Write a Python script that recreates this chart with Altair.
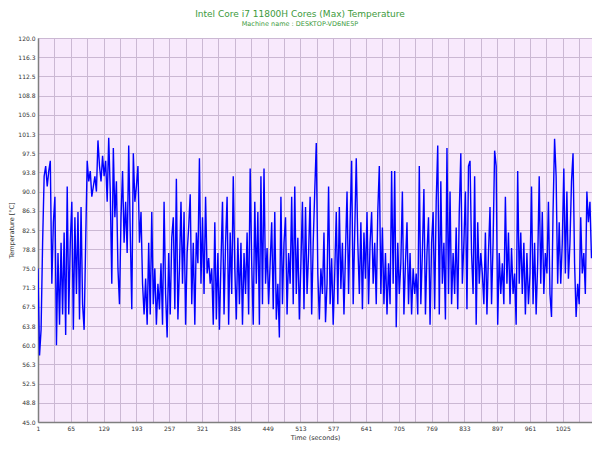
import altair as alt
import pandas as pd

TITLE = "Intel Core i7 11800H Cores (Max) Temperature"
SUBTITLE = "Machine name : DESKTOP-VD6NE5P"
X_TITLE = "Time (seconds)"
Y_TITLE = "Temperature [°C]"

# temperature read every 3 seconds, starting at second 1
TEMPS_A = [75, 58, 63, 80, 93, 95, 91, 94, 96, 72,
           84, 89, 60, 78, 64, 80, 66, 82, 62, 91,
           66, 80, 88, 63, 85, 70, 86, 65, 87, 68,
           63, 80, 96, 92, 94, 89, 91, 93, 90, 100,
           95, 92, 97, 93, 96, 88, 100.5, 90, 72, 98.5,
           85, 92, 75, 68, 85, 94, 80, 88, 78, 99,
           82, 67, 97.5, 88, 91, 95, 80, 86, 72, 66,
           73, 64]
TEMPS_B = [80, 66, 86, 68, 75, 64, 72, 67, 76, 64,
           88, 70, 61.5, 78, 66, 81, 85, 67, 92.5, 65,
           75, 88, 72, 86, 64, 78, 83, 89.5, 68, 80,
           64, 82, 76, 96.5, 72, 85, 70, 89, 74, 77,
           72, 75, 64, 84, 65, 78, 63, 76, 88, 66,
           80, 89, 64, 82, 70, 93, 75, 65, 81, 68,
           80, 64, 78, 70, 82, 66, 94.5, 76, 64, 88,
           72, 86, 64]
TEMPS_C = [93, 68, 94.5, 72, 79, 68, 76, 84, 67, 86,
           65, 72, 61.5, 89, 68, 80, 85, 66, 78, 72,
           89, 68, 91, 70, 81, 65, 76, 88, 67, 87,
           70, 78, 89, 66, 80, 90, 99.5, 74, 65, 75,
           70, 82, 64.5, 72, 91, 68, 77, 64, 74, 86,
           68, 87, 71, 80, 66, 78, 90, 70, 84, 96,
           68, 82, 96.5, 80, 70, 84, 67, 82, 73, 86,
           68, 80]
TEMPS_D = [86, 72, 80, 68, 86, 95, 70, 83, 68, 78,
           66, 76, 68, 94, 72, 94, 63.5, 80, 70, 76,
           90, 66, 76, 84, 68, 78, 66, 75, 70, 74,
           66, 95, 68, 78, 90.5, 66, 78, 85, 64, 80,
           86, 67, 88, 99, 66, 92, 72, 80, 65, 98.5,
           70, 90, 68, 78, 70, 83, 67, 86, 97.5, 72,
           80, 90, 67, 95, 96, 78, 70, 93, 64, 84,
           72, 78]
TEMPS_E = [74, 68, 82, 66, 78, 87, 68, 80, 98, 95,
           64, 78, 70, 76, 68, 89, 72, 82, 68, 79,
           70, 74, 64, 94, 72, 82, 70, 80, 66, 78,
           68, 74, 91, 68, 80, 66, 76, 93, 72, 86,
           70, 78, 74, 88, 70, 65.5, 86, 100.3, 93, 72,
           84, 72, 80, 94.5, 74, 90, 73, 80, 92, 97.5,
           76, 65.5, 72, 68, 85, 74, 78, 70, 90, 84,
           88, 77]

TEMPS = TEMPS_A + TEMPS_B + TEMPS_C + TEMPS_D + TEMPS_E
TIME = list(range(1, 1 + 3 * len(TEMPS), 3))

X_TICKS = [1, 33, 65, 97, 129, 161, 193, 225, 257, 289, 321, 353, 385, 417,
           449, 481, 513, 545, 577, 609, 641, 673, 705, 737, 769, 801, 833,
           865, 897, 929, 961, 993, 1025, 1057]
X_DOMAIN = [1, 1082]
Y_TICKS = [45.0, 48.75, 52.5, 56.25, 60.0, 63.75, 67.5, 71.25, 75.0, 78.75,
           82.5, 86.25, 90.0, 93.75, 97.5, 101.25, 105.0, 108.75, 112.5,
           116.25, 120.0]
Y_DOMAIN = [45, 120]

df = pd.DataFrame({"t": TIME, "temp": TEMPS})

FONT = "DejaVu Sans"

chart = (
    alt.Chart(df)
    .mark_line(color="#0000ff", strokeWidth=1.4, clip=True)
    .encode(
        x=alt.X(
            "t:Q",
            scale=alt.Scale(domain=X_DOMAIN, nice=False, zero=False),
            axis=alt.Axis(
                values=X_TICKS,
                format="d",
                labelExpr="(datum.value % 64 == 1) ? datum.label : ''",
                title=X_TITLE,
                titlePadding=3,
                labelPadding=3,
                labelFlush=False,
            ),
        ),
        y=alt.Y(
            "temp:Q",
            scale=alt.Scale(domain=Y_DOMAIN, nice=False, zero=False),
            axis=alt.Axis(
                values=Y_TICKS,
                format=".1f",
                title=Y_TITLE,
                titlePadding=3,
                labelPadding=3,
            ),
        ),
    )
    .properties(
        width=554,
        height=384,
        autosize=alt.AutoSizeParams(type="none"),
        padding={"left": 30, "top": 30, "right": 0, "bottom": 20},
        title=alt.TitleParams(
            text=TITLE,
            subtitle=SUBTITLE,
            anchor="middle",
            dx=-15,
            offset=8,
            font=FONT,
            fontSize=9,
            fontWeight="normal",
            color="#3c9a3c",
            subtitleFont=FONT,
            subtitleFontSize=6.5,
            subtitleColor="#3c9a3c",
            subtitlePadding=2,
        ),
    )
    .configure(background="white")
    .configure_view(stroke="#8c8c8c", strokeWidth=1, fill="#f8e9fc")
    .configure_axis(
        grid=True,
        gridColor="#cbb8d3",
        gridWidth=1,
        gridOpacity=1,
        domainColor="#7f7f7f",
        domainWidth=1.5,
        ticks=False,
        labelFont=FONT,
        labelFontSize=6,
        labelColor="#333333",
        titleFont=FONT,
        titleFontSize=6.5,
        titleFontWeight="normal",
        titleColor="#333333",
    )
)

chart.save("out.html", embed_options={"renderer": "svg", "actions": False})
